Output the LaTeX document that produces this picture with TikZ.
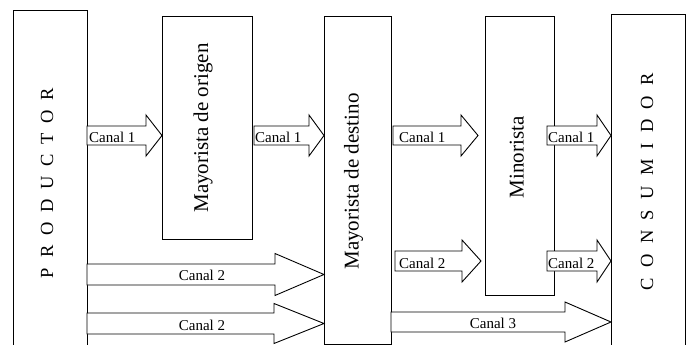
\documentclass[tikz,border=0pt]{standalone}
\usepackage{fontspec}
\setmainfont{Liberation Serif}
\begin{document}
\begin{tikzpicture}[x=1pt,y=-1pt,
  box/.style={draw=black,line width=0.9pt,fill=none,inner sep=0pt,anchor=north west},
  blk/.style={draw=black,line width=0.9pt,fill=white,line join=miter},
  lbl/.style={inner sep=0pt,font=\fontsize{15}{15}\selectfont},
  big/.style={inner sep=0pt,rotate=90,anchor=base,font=\fontsize{21}{21}\selectfont},
  sp/.style={inner sep=0pt,rotate=90,anchor=base,font=\fontsize{18.5}{18.5}\selectfont}]
\useasboundingbox (0,0) rectangle (688,345);
\clip (0,0) rectangle (688,345);
% block arrow: x0, head start, tip, centre y, shaft half, head half
\newcommand\blkarrow[6]{%
  \draw[blk] (#1,#4-#5) -- (#2,#4-#5) -- (#2,#4-#6) -- (#3,#4) -- (#2,#4+#6) -- (#2,#4+#5) -- (#1,#4+#5) -- cycle;}
% boxes
\node[box,minimum width=74pt,minimum height=380pt] (prod) at (13,10) {};
\node[box,minimum width=90pt,minimum height=223pt] (orig) at (162,16) {};
\node[box,minimum width=67pt,minimum height=328pt] (dest) at (324,16) {};
\node[box,minimum width=69pt,minimum height=279pt] (mino) at (485,16) {};
\node[box,minimum width=74pt,minimum height=380pt] (cons) at (611,14) {};
% box texts
\node[sp] (tprod) at (53,183) {\makebox[190pt][s]{P R O D U C T O R}};
\node[sp] (tcons) at (653,181.5) {\makebox[217pt][s]{C O N S U M I D O R}};
\node[big] (torig) at (208,128) {Mayorista de origen};
\node[big] (tdest) at (358.5,181.5) {Mayorista de destino};
\node[big] (tmino) at (523.5,157.5) {Minorista};
% arrows
\blkarrow{87}{146}{162}{135.5}{9.5}{20.5}
\blkarrow{254}{309}{324}{135.5}{9.5}{20.5}
\blkarrow{393}{461}{478}{135.5}{9.5}{20.5}
\blkarrow{395}{462}{481}{261}{10}{21}
\blkarrow{547}{597}{611}{135.5}{9.5}{20.5}
\blkarrow{547}{597}{611}{261}{10}{21}
\blkarrow{87}{275}{324}{274.5}{10.5}{21}
\blkarrow{87}{274}{324}{323.5}{10.5}{20}
\blkarrow{391}{565}{611}{322}{10}{20}
% labels
\node[lbl,anchor=base west] (l1) at (89,142.5) {Canal 1};
\node[lbl,anchor=base west] (l2) at (255,142.5) {Canal 1};
\node[lbl,anchor=base west] (l3) at (399,142.5) {Canal 1};
\node[lbl,anchor=base west] (l4) at (548,142.5) {Canal 1};
\node[lbl,anchor=base west] (l5) at (399,268) {Canal 2};
\node[lbl,anchor=base west] (l6) at (548,268) {Canal 2};
\node[lbl,anchor=base] (l7) at (202,280) {Canal 2};
\node[lbl,anchor=base] (l8) at (202,330) {Canal 2};
\node[lbl,anchor=base] (l9) at (493,328.5) {Canal 3};
\end{tikzpicture}
\end{document}
